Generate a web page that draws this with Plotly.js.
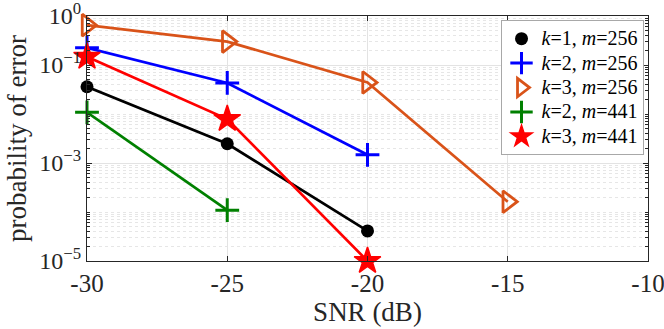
<!DOCTYPE html>
<html>
<head>
<meta charset="utf-8">
<script src="https://cdn.plot.ly/plotly-3.0.1.min.js"></script>
<style>html,body{margin:0;padding:0;background:#fff;}#chart{width:664px;height:329px;}</style>
</head>
<body>
<div id="chart"></div>
<script>
// ---- data ----
const snr = [-30, -25, -20, -15];
const k1m256 = [0.036, 0.00247, 4.1e-5];
const k2m256 = [0.225, 0.043, 0.00147];
const k3m256 = [0.65, 0.30, 0.044, 1.62e-4];
const k2m441 = [0.0108, 1.09e-4];
const k3m441 = [0.147, 0.0079, 1.0e-5];
const seriesNames = [
  "<i>k</i>=1, <i>m</i>=256",
  "<i>k</i>=2, <i>m</i>=256",
  "<i>k</i>=3, <i>m</i>=256",
  "<i>k</i>=2, <i>m</i>=441",
  "<i>k</i>=3, <i>m</i>=441"
];
const xTickVals = [-30, -25, -20, -15, -10];
const xTickText = ["-30", "-25", "-20", "-15", "-10"];
const yTickVals = [1, 0.1, 1e-3, 1e-5];
const yTickText = ["10<sup>0</sup>", "10<sup>\u22121</sup>", "10<sup>\u22123</sup>", "10<sup>\u22125</sup>"];

// ---- styles ----
const FONT = "'Liberation Serif', 'Times New Roman', serif";
const styles = [
  {color: "#000000", symbol: "circle", size: 13, lw: 0},
  {color: "#0000ff", symbol: "cross-thin-open", size: 17, lw: 3},
  {color: "#d95319", symbol: "triangle-right-open", size: 19, lw: 2.8},
  {color: "#008000", symbol: "cross-thin-open", size: 17, lw: 3},
  {color: "#ff0000", symbol: "star", size: 20, lw: 1.5}
];
const ys = [k1m256, k2m256, k3m256, k2m441, k3m441];

const traces = [];
ys.forEach((y, i) => {
  const s = styles[i];
  const x = snr.slice(0, y.length);
  traces.push({
    x: x, y: y, mode: "lines", showlegend: false, hoverinfo: "skip",
    line: {color: s.color, width: 2.7}, cliponaxis: false
  });
  traces.push({
    x: x, y: y, mode: "markers", cliponaxis: false,
    name: '<span style="font-size:20px">' + seriesNames[i] + '</span>',
    marker: {symbol: s.symbol, size: s.size, color: s.color,
             line: {color: s.color, width: s.lw}}
  });
});

// minor log grid positions (2..9 x each decade, plus unlabeled decades)
const minorVals = [];
for (let e = -5; e < 0; e++) {
  for (let m = 1; m <= 9; m++) {
    const v = m * Math.pow(10, e);
    if (m === 1 && (e === -5 || e === -3 || e === -1)) continue;
    minorVals.push(v);
  }
}

const axisColor = "#262626";
const layout = {
  width: 664, height: 329,
  margin: {l: 87, r: 16, t: 16, b: 68},
  paper_bgcolor: "#ffffff", plot_bgcolor: "#ffffff",
  font: {family: FONT, color: "#262626", size: 25},
  showlegend: true,
  legend: {
    x: 0.992, xanchor: "right", y: 0.982, yanchor: "top",
    bgcolor: "#ffffff", bordercolor: "#a8a8a8", borderwidth: 1,
    font: {family: FONT, size: 16.5, color: "#000000"},
    tracegroupgap: 0, itemwidth: 30
  },
  xaxis: {
    range: [-30, -10], tickmode: "array", tickvals: xTickVals, ticktext: xTickText,
    showline: true, linecolor: axisColor, linewidth: 1, mirror: "ticks",
    ticks: "inside", ticklen: 5, tickcolor: axisColor, ticklabeloverflow: "allow",
    showgrid: true, gridcolor: "#e3e3e3", gridwidth: 1, zeroline: false,
    tickfont: {family: FONT, size: 25, color: "#262626"},
    title: {text: "SNR (dB)", font: {family: FONT, size: 27, color: "#262626"}, standoff: 6}
  },
  yaxis: {
    type: "log", range: [-5, 0], tickmode: "array", tickvals: yTickVals, ticktext: yTickText,
    showline: true, linecolor: axisColor, linewidth: 1, mirror: "ticks",
    ticks: "inside", ticklen: 5, tickcolor: axisColor, ticklabeloverflow: "allow",
    showgrid: true, gridcolor: "#e3e3e3", gridwidth: 1, zeroline: false,
    tickfont: {family: FONT, size: 24, color: "#262626"},
    minor: {tickmode: "array", tickvals: minorVals, ticks: "inside", ticklen: 3,
            tickcolor: axisColor, showgrid: true, gridcolor: "#e6e6e6", griddash: "dot", gridwidth: 1},
    title: {text: "probability of error", font: {family: FONT, size: 27, color: "#262626"}, standoff: 4}
  }
};

Plotly.newPlot("chart", traces, layout, {displayModeBar: false, staticPlot: true});
</script>
</body>
</html>
